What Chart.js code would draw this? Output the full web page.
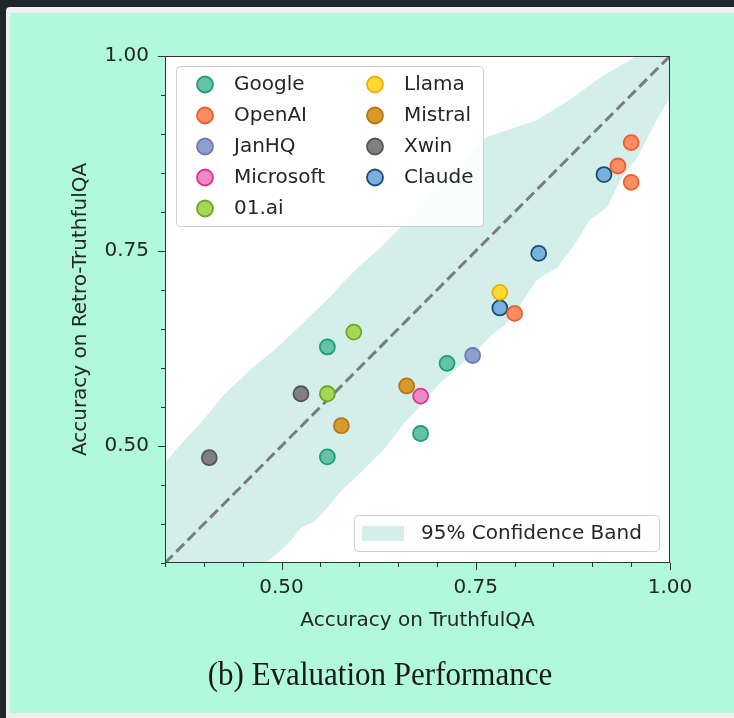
<!DOCTYPE html>
<html>
<head>
<meta charset="utf-8">
<script src="https://cdn.jsdelivr.net/npm/chart.js@4.4.0/dist/chart.umd.min.js"></script>
<style>
html, body { margin: 0; padding: 0; }
body { width: 734px; height: 718px; background: #1e2629; position: relative; overflow: hidden; }
#frame { position: absolute; left: 6px; top: 7px; right: 0; bottom: 0; background: #efefef; border-top-left-radius: 4px; }
#paper { position: absolute; left: 10px; top: 13px; right: 0; height: 700px; background: #b1f9dc; }
#chart { position: absolute; left: 0; top: 0; }
#caption { position: absolute; left: 0; width: 760px; top: 658px; text-align: center;
  font-family: 'Liberation Serif', serif; font-size: 33px; line-height: 33px; color: #1a1a1a;
  transform: scaleX(0.94); transform-origin: 380px 0; }
</style>
</head>
<body>
<div id="frame"></div>
<div id="paper"></div>
<canvas id="chart" width="734" height="718"></canvas>
<div id="caption">(b) Evaluation Performance</div>
<script>
/* ---------- データ ---------- */
const groups = ['Google', 'OpenAI', 'JanHQ', 'Microsoft', '01.ai', 'Llama', 'Mistral', 'Xwin', 'Claude'];
const fills  = ['#66c2a5', '#fc8d62', '#8da0cb', '#e98ac3', '#a6d854', '#ffd92f', '#d99a2a', '#808080', '#78b1db'];
const edges  = ['#1b9e77', '#e8612c', '#7276b5', '#e0308a', '#6ba82a', '#e9ae0c', '#b07818', '#555555', '#1e4c75'];

const googleX    = [0.559, 0.559, 0.679, 0.713];
const googleY    = [0.486, 0.627, 0.516, 0.606];
const openaiX    = [0.800, 0.933, 0.950, 0.950];
const openaiY    = [0.670, 0.859, 0.889, 0.838];
const janhqX     = [0.746];
const janhqY     = [0.616];
const microsoftX = [0.679];
const microsoftY = [0.564];
const yiX        = [0.559, 0.593];
const yiY        = [0.567, 0.646];
const llamaX     = [0.781];
const llamaY     = [0.697];
const mistralX   = [0.577, 0.661];
const mistralY   = [0.526, 0.577];
const xwinX      = [0.407, 0.525];
const xwinY      = [0.485, 0.567];
const claudeX    = [0.781, 0.831, 0.915];
const claudeY    = [0.677, 0.747, 0.848];

const seriesX = [googleX, openaiX, janhqX, microsoftX, yiX, llamaX, mistralX, xwinX, claudeX];
const seriesY = [googleY, openaiY, janhqY, microsoftY, yiY, llamaY, mistralY, xwinY, claudeY];

// 95% 信頼帯 (上側 / 下側の境界)
const bandUpperX = [0.350, 0.373, 0.391, 0.408, 0.425, 0.459, 0.494, 0.528, 0.562, 0.595, 0.627, 0.704, 0.764, 0.829, 0.871, 0.910, 0.955, 1.000];
const bandUpperY = [0.479, 0.505, 0.524, 0.544, 0.565, 0.597, 0.626, 0.658, 0.691, 0.726, 0.754, 0.832, 0.896, 0.918, 0.944, 0.972, 0.999, 1.027];
const bandLowerX = [0.479, 0.507, 0.525, 0.543, 0.560, 0.578, 0.605, 0.631, 0.661, 0.678, 0.704, 0.713, 0.752, 0.768, 0.785, 0.803, 0.811, 0.829, 0.855, 0.875, 0.897, 0.919, 0.936, 0.958, 0.978, 1.000];
const bandLowerY = [0.350, 0.373, 0.395, 0.404, 0.422, 0.444, 0.469, 0.495, 0.533, 0.550, 0.581, 0.588, 0.623, 0.640, 0.653, 0.671, 0.687, 0.713, 0.729, 0.755, 0.790, 0.806, 0.841, 0.870, 0.909, 0.947];
const bandCornerX = [0.350];
const bandCornerY = [0.350];

const diagX = [0.35, 1.00];
const diagY = [0.35, 1.00];

const tickLabels = ['0.50', '0.75', '1.00'];
const bandLabel = '95% Confidence Band';
const bandColor = '#d4efe9';

/* ---------- データセット組み立て ---------- */
function toPoints(xs, ys) {
    return xs.map((x, i) => ({ x: x, y: ys[i] }));
}

const bandPoints = toPoints(bandUpperX, bandUpperY)
    .concat(toPoints(bandLowerX, bandLowerY).reverse())
    .concat(toPoints(bandCornerX, bandCornerY));

const datasets = groups.map((g, i) => ({
    type: 'scatter',
    label: g,
    data: toPoints(seriesX[i], seriesY[i]),
    backgroundColor: fills[i],
    borderColor: edges[i],
    borderWidth: 1.8,
    pointRadius: 7.5,
    order: 0
}));

datasets.push({
    type: 'line',
    label: 'diag',
    data: toPoints(diagX, diagY),
    borderColor: 'rgba(112,112,112,0.9)',
    borderWidth: 3,
    borderDash: [11, 5],
    pointRadius: 0,
    fill: false,
    order: 2
});

datasets.push({
    type: 'line',
    label: bandLabel,
    data: bandPoints,
    borderWidth: 0,
    borderColor: 'rgba(0,0,0,0)',
    backgroundColor: bandColor,
    pointRadius: 0,
    fill: 'shape',
    tension: 0,
    order: 3
});

function isMajor(v) {
    return tickLabels.includes(v.toFixed(2));
}

/* ---------- 枠・目盛り・凡例 ---------- */
const FONT = '"DejaVu Sans", sans-serif';

const decorPlugin = {
    id: 'decor',
    beforeDraw(chart) {
        const { ctx, chartArea: a } = chart;
        ctx.save();
        ctx.fillStyle = '#ffffff';
        ctx.fillRect(a.left, a.top, a.right - a.left, a.bottom - a.top);
        ctx.restore();
    },
    afterDatasetsDraw(chart) {
        const { ctx, chartArea: a, scales } = chart;
        ctx.save();
        ctx.strokeStyle = '#333333';
        ctx.lineWidth = 1;
        ctx.strokeRect(a.left + 0.5, a.top + 0.5, a.right - a.left - 1, a.bottom - a.top - 1);
        scales.x.ticks.forEach(t => {
            const px = Math.round(scales.x.getPixelForValue(t.value)) + 0.5;
            const len = isMajor(t.value) ? 7 : 4;
            ctx.beginPath();
            ctx.moveTo(px, a.bottom);
            ctx.lineTo(px, a.bottom + len);
            ctx.stroke();
        });
        scales.y.ticks.forEach(t => {
            const py = Math.round(scales.y.getPixelForValue(t.value)) + 0.5;
            const len = isMajor(t.value) ? 7 : 4;
            ctx.beginPath();
            ctx.moveTo(a.left, py);
            ctx.lineTo(a.left - len, py);
            ctx.stroke();
        });

        // 凡例 1 (モデル群, 2 列)
        ctx.beginPath();
        ctx.roundRect(176.5, 66.5, 307, 160, 4);
        ctx.fillStyle = 'rgba(255,255,255,0.85)';
        ctx.fill();
        ctx.strokeStyle = '#cfcfcf';
        ctx.stroke();

        ctx.font = '20px ' + FONT;
        ctx.textBaseline = 'middle';
        groups.forEach((g, i) => {
            const col = i < 5 ? 0 : 1;
            const row = i < 5 ? i : i - 5;
            const cx = col ? 375 : 205;
            const cy = 84.5 + row * 31;
            ctx.beginPath();
            ctx.arc(cx, cy, 8, 0, Math.PI * 2);
            ctx.fillStyle = fills[i];
            ctx.fill();
            ctx.lineWidth = 1.8;
            ctx.strokeStyle = edges[i];
            ctx.stroke();
            ctx.fillStyle = '#262626';
            ctx.fillText(g, cx + 29, cy);
        });

        // 凡例 2 (信頼帯)
        ctx.lineWidth = 1;
        ctx.beginPath();
        ctx.roundRect(354.5, 515.5, 305, 36, 4);
        ctx.fillStyle = 'rgba(255,255,255,0.85)';
        ctx.fill();
        ctx.strokeStyle = '#cfcfcf';
        ctx.stroke();
        ctx.fillStyle = bandColor;
        ctx.fillRect(362, 526, 42, 15);
        ctx.fillStyle = '#262626';
        ctx.fillText(bandLabel, 421, 534);
        ctx.restore();
    }
};

/* ---------- チャート ---------- */
new Chart(document.getElementById('chart'), {
    type: 'scatter',
    data: { datasets },
    plugins: [decorPlugin],
    options: {
        responsive: false,
        animation: false,
        layout: { padding: { left: 60, top: 56, right: 64, bottom: 75 } },
        plugins: { legend: { display: false }, tooltip: { enabled: false } },
        scales: {
            x: {
                type: 'linear',
                min: 0.35,
                max: 1.0,
                afterFit: s => { s.height = 80; },
                grid: { color: 'rgba(0,0,0,0)', drawOnChartArea: false, tickLength: 7 },
                border: { display: false },
                ticks: {
                    stepSize: 0.05,
                    autoSkip: false,
                    maxRotation: 0,
                    padding: 6,
                    color: '#262626',
                    font: { family: FONT, size: 20 },
                    callback: v => isMajor(v) ? v.toFixed(2) : ''
                },
                title: {
                    display: true,
                    text: 'Accuracy on TruthfulQA',
                    color: '#262626',
                    font: { family: FONT, size: 20 },
                    padding: { top: 0, bottom: 10 }
                }
            },
            y: {
                type: 'linear',
                min: 0.35,
                max: 1.0,
                afterFit: s => { s.width = 105; },
                grid: { color: 'rgba(0,0,0,0)', drawOnChartArea: false, tickLength: 7 },
                border: { display: false },
                ticks: {
                    stepSize: 0.05,
                    autoSkip: false,
                    padding: 9,
                    color: '#262626',
                    font: { family: FONT, size: 20 },
                    callback: v => isMajor(v) ? v.toFixed(2) : ''
                },
                title: {
                    display: true,
                    text: 'Accuracy on Retro-TruthfulQA',
                    color: '#262626',
                    font: { family: FONT, size: 20 },
                    padding: { top: 9, bottom: 0 }
                }
            }
        }
    }
});
</script>
</body>
</html>
